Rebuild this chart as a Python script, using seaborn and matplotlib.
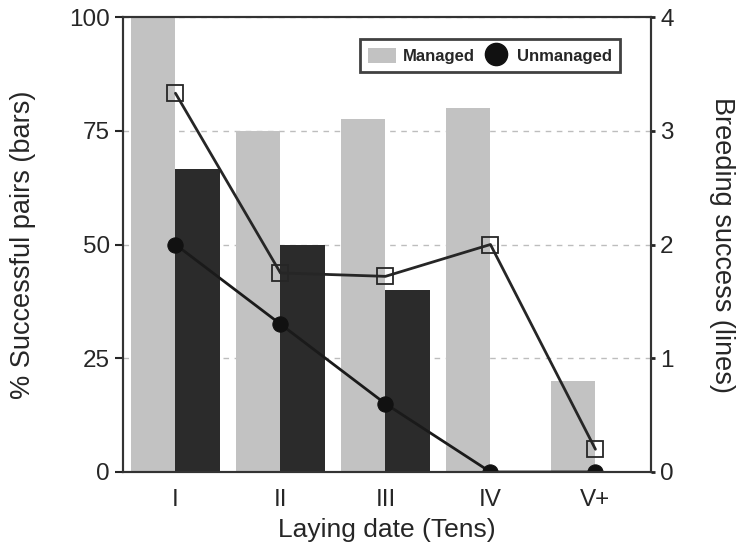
import numpy as np
import pandas as pd
import matplotlib.pyplot as plt
from matplotlib.patches import Patch
from matplotlib.lines import Line2D
import seaborn as sns

# data
dates = ["I", "II", "III", "IV", "V+"]
managed_pct = [100, 75, 77.5, 80, 20]
unmanaged_pct = [66.7, 50, 40, 0, 0]
managed_success = [3.33, 1.75, 1.72, 2.0, 0.2]
unmanaged_success = [2.0, 1.3, 0.6, 0.0, 0.0]

sns.set_style("ticks")
plt.rcParams["font.family"] = ["Liberation Sans", "DejaVu Sans"]

bars = pd.DataFrame({
    "date": dates * 2,
    "pct": managed_pct + unmanaged_pct,
    "group": ["Managed"] * len(dates) + ["Unmanaged"] * len(dates),
})

fig = plt.figure(figsize=(7.39, 5.51), dpi=100)
ax = fig.add_axes([0.1664, 0.1434, 0.7146, 0.8257])

sns.barplot(data=bars, x="date", y="pct", hue="group",
            palette={"Managed": "#c2c2c2", "Unmanaged": "#2b2b2b"},
            width=0.84, saturation=1, legend=False, linewidth=0,
            edgecolor="none", ax=ax)

ax.set_xlim(-0.5, 4.53)
ax.set_ylim(0, 100)
ax.set_yticks([0, 25, 50, 75, 100])
ax.yaxis.grid(True, linestyle=(0, (4, 4)), color="#bdbdbd", linewidth=1)
ax.set_axisbelow(True)
ax.set_xlabel("Laying date (Tens)", fontsize=19, labelpad=5)
ax.set_ylabel("% Successful pairs (bars)", fontsize=19.5, labelpad=24)
ax.tick_params(axis="x", length=0, labelsize=17.5, pad=12)
ax.tick_params(axis="y", length=6, width=1.5, labelsize=17.5)

ax2 = ax.twinx()
pos = np.arange(len(dates))
sns.lineplot(x=pos, y=managed_success, ax=ax2, color="#262626", linewidth=2,
             marker="s", markersize=12, markerfacecolor="none",
             markeredgecolor="#262626", markeredgewidth=1.3)
sns.lineplot(x=pos, y=unmanaged_success, ax=ax2, color="#1a1a1a", linewidth=2,
             marker="o", markersize=11, markerfacecolor="#111111",
             markeredgecolor="#111111")
ax2.set_ylim(0, 4)
ax2.set_yticks([0, 1, 2, 3, 4])
ax2.set_ylabel("Breeding success (lines)", fontsize=19.5, rotation=270,
               labelpad=44)
ax2.tick_params(axis="y", length=3, width=2, labelsize=17.5)

for a in (ax, ax2):
    for s in a.spines.values():
        s.set_linewidth(1.5)
        s.set_color("#333333")

handles = [Patch(facecolor="#c2c2c2", edgecolor="none"),
           Line2D([], [], marker="o", linestyle="none", markersize=16,
                  markerfacecolor="#111111", markeredgecolor="#111111")]
leg = ax2.legend(handles, ["Managed", "Unmanaged"], ncol=2,
                 loc="upper right", bbox_to_anchor=(0.957, 0.969),
                 frameon=True, fancybox=False, edgecolor="#111111",
                 prop={"weight": "bold", "size": 12},
                 handlelength=1.7, handleheight=1.0, handletextpad=0.4,
                 columnspacing=0.4, borderpad=0.5)
leg.get_frame().set_linewidth(2)

fig.savefig("out.png", dpi=100)
